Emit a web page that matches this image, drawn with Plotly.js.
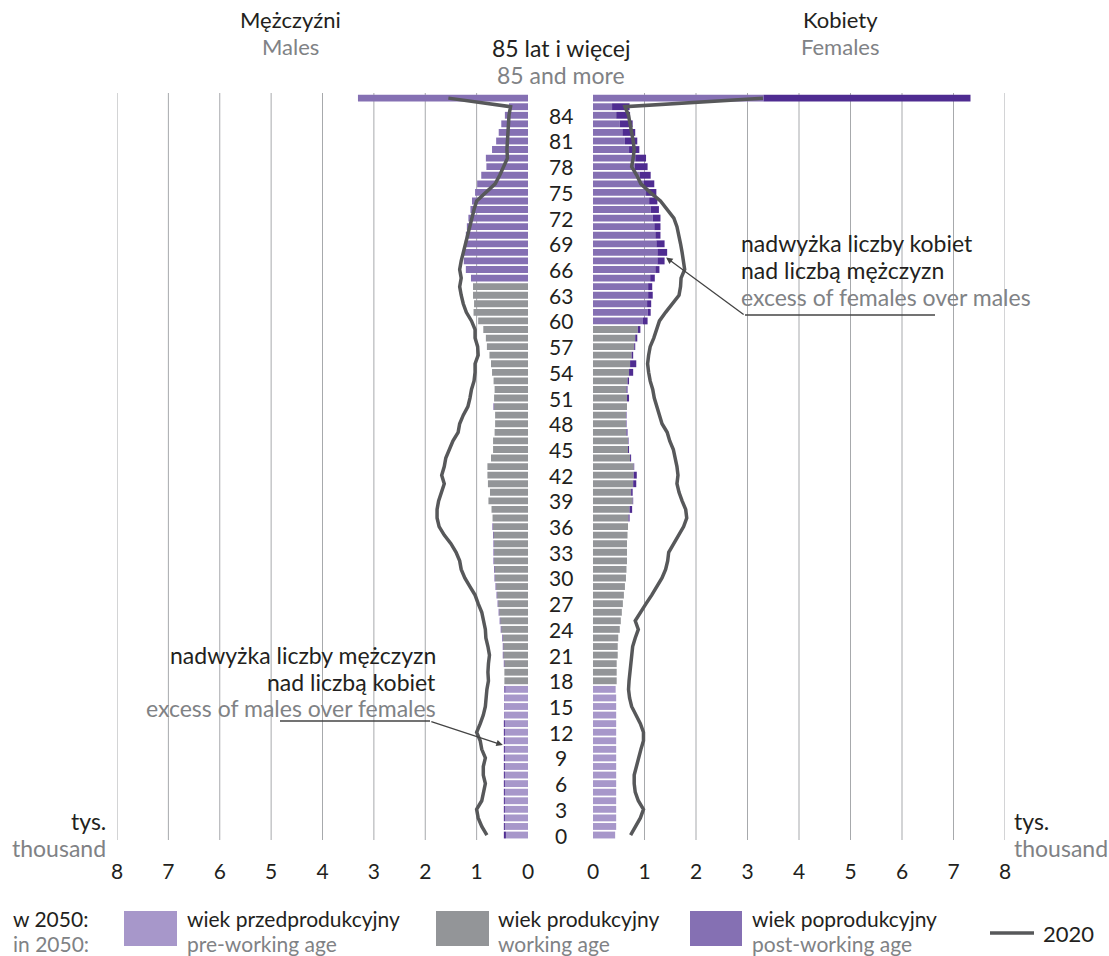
<!DOCTYPE html>
<html><head><meta charset="utf-8">
<script src="https://cdn.plot.ly/plotly-3.0.1.min.js"></script>
<style>html,body{margin:0;padding:0;background:#fff}</style>
</head><body>
<div id="chart" style="width:1109px;height:956px"></div>
<script>
// Rows: single years of age 0..85, last row = "85 lat i więcej / 85 and more"
const ageLabels = ['0','1','2','3','4','5','6','7','8','9','10','11','12','13','14','15','16','17','18','19',
 '20','21','22','23','24','25','26','27','28','29','30','31','32','33','34','35','36','37','38','39',
 '40','41','42','43','44','45','46','47','48','49','50','51','52','53','54','55','56','57','58','59',
 '60','61','62','63','64','65','66','67','68','69','70','71','72','73','74','75','76','77','78','79',
 '80','81','82','83','84','85','85+'];
const ageTicks = [0,3,6,9,12,15,18,21,24,27,30,33,36,39,42,45,48,51,54,57,60,63,66,69,72,75,78,81,84];

// thousands, 2050 projection
const males2050 = [0.47,0.47,0.47,0.47,0.47,0.47,0.47,0.47,0.47,0.47,
 0.47,0.47,0.47,0.47,0.46,0.46,0.46,0.46,0.46,0.46,
 0.47,0.49,0.49,0.50,0.53,0.55,0.57,0.59,0.61,0.63,
 0.65,0.66,0.67,0.67,0.67,0.68,0.69,0.69,0.71,0.77,
 0.74,0.78,0.79,0.79,0.72,0.68,0.68,0.65,0.64,0.64,
 0.67,0.66,0.65,0.67,0.70,0.72,0.75,0.80,0.82,0.87,
 0.97,1.06,1.05,1.07,1.07,1.11,1.21,1.25,1.25,1.23,
 1.21,1.19,1.16,1.12,1.09,1.03,0.99,0.91,0.81,0.82,
 0.70,0.62,0.57,0.52,0.45,0.37,3.31];
const females2050 = [0.43,0.45,0.45,0.45,0.45,0.45,0.45,0.45,0.45,0.45,
 0.45,0.45,0.45,0.45,0.45,0.45,0.45,0.44,0.46,0.46,
 0.46,0.48,0.48,0.49,0.52,0.54,0.56,0.58,0.60,0.62,
 0.64,0.65,0.66,0.66,0.66,0.67,0.68,0.71,0.76,0.78,
 0.77,0.84,0.85,0.80,0.74,0.70,0.69,0.67,0.65,0.65,
 0.66,0.70,0.67,0.70,0.78,0.84,0.78,0.82,0.86,0.92,
 1.06,1.12,1.13,1.16,1.15,1.20,1.29,1.39,1.44,1.39,
 1.31,1.31,1.31,1.28,1.25,1.23,1.19,1.12,1.06,1.03,
 0.90,0.86,0.82,0.77,0.72,0.71,7.33];
// thousands, 2020
const males2020 = [0.80,0.90,0.97,1.00,0.90,0.87,0.83,0.87,0.87,0.83,
 0.90,0.93,1.00,0.93,0.87,0.83,0.82,0.80,0.77,0.78,
 0.77,0.75,0.78,0.82,0.83,0.87,0.90,0.97,1.03,1.13,
 1.23,1.30,1.33,1.40,1.50,1.63,1.73,1.77,1.77,1.74,
 1.68,1.63,1.68,1.63,1.60,1.53,1.46,1.36,1.33,1.26,
 1.17,1.13,1.10,1.05,1.03,1.03,0.97,0.98,1.03,1.03,
 1.10,1.20,1.26,1.30,1.33,1.30,1.33,1.30,1.26,1.22,
 1.18,1.14,1.10,1.05,1.00,0.83,0.64,0.55,0.47,0.40,
 0.41,0.40,0.38,0.38,0.37,0.34,1.55];
const females2020 = [0.73,0.82,0.92,0.98,0.88,0.82,0.80,0.80,0.84,0.88,
 0.93,0.98,0.98,0.92,0.84,0.75,0.71,0.69,0.70,0.72,
 0.73,0.75,0.77,0.82,0.88,0.82,0.92,1.03,1.14,1.24,
 1.34,1.41,1.45,1.47,1.57,1.67,1.76,1.82,1.80,1.73,
 1.67,1.63,1.65,1.63,1.60,1.56,1.49,1.44,1.34,1.29,
 1.24,1.19,1.16,1.11,1.08,1.06,1.08,1.11,1.18,1.24,
 1.29,1.41,1.54,1.67,1.70,1.71,1.78,1.76,1.73,1.70,
 1.67,1.63,1.57,1.44,1.31,1.11,0.93,0.85,0.75,0.78,
 0.80,0.78,0.75,0.72,0.69,0.62,3.30];

// age-group limits (2050): working age starts at 18, post-working 65 (men) / 60 (women)
const workStart = 18, postStartM = 65, postStartF = 60;
const xTicks = [0,1,2,3,4,5,6,7,8];

const C = {pre:'#a797ca', work:'#939598', post:'#8570b3', excess:'#4f2c91',
           line:'#57585a', text:'#231f20', grey:'#808285', grid:'#a7a9ac'};
const FONT = 'Lato, "Open Sans", sans-serif';
const TS = 23;
const W = 1109, H = 956;
const px = v => v / W, py = v => 1 - v / H;

const rows = ageLabels.map((_, i) => i);
const grp = (i, postStart) => i < workStart ? C.pre : (i < postStart ? C.work : C.post);
const shared = males2050.map((m, i) => Math.min(m, females2050[i]));
const exM = males2050.map((m, i) => Math.max(0, m - females2050[i]));
const exF = females2050.map((f, i) => Math.max(0, f - males2050[i]));

const barW = 0.8;
const traces = [
  {type:'bar', orientation:'h', y:rows, x:shared, xaxis:'x', yaxis:'y', width:barW,
   marker:{color: rows.map(i => grp(i, postStartM)), line:{width:0}}},
  {type:'bar', orientation:'h', y:rows, x:exM, base:shared, xaxis:'x', yaxis:'y', width:barW,
   marker:{color:C.excess, line:{width:0}}},
  {type:'bar', orientation:'h', y:rows, x:shared, xaxis:'x2', yaxis:'y', width:barW,
   marker:{color: rows.map(i => grp(i, postStartF)), line:{width:0}}},
  {type:'bar', orientation:'h', y:rows, x:exF, base:shared, xaxis:'x2', yaxis:'y', width:barW,
   marker:{color:C.excess, line:{width:0}}},
  {type:'scatter', mode:'lines', y:rows, x:males2020, xaxis:'x', yaxis:'y',
   line:{color:C.line, width:3.5}},
  {type:'scatter', mode:'lines', y:rows, x:females2020, xaxis:'x2', yaxis:'y',
   line:{color:C.line, width:3.5}}
];

const yTop = 93, yBot = 840;
const shapes = [];
xTicks.filter(v => v > 0).forEach(v => {
  ['x','x2'].forEach(ax => shapes.push({type:'line', xref:ax, yref:'paper', x0:v, x1:v,
    y0:py(yBot), y1:py(yTop), line:{color:C.grid, width:1}, layer:'below'}));
});
// annotation leader lines
shapes.push({type:'line', xref:'paper', yref:'paper', x0:px(745), x1:px(935), y0:py(315), y1:py(315), line:{color:'#444', width:1.3}});
shapes.push({type:'line', xref:'paper', yref:'paper', x0:px(280), x1:px(430), y0:py(721), y1:py(721), line:{color:'#444', width:1.3}});
// legend swatches
[[124,177,C.pre],[436,489,C.work],[690,742,C.post]].forEach(s => shapes.push({type:'rect', xref:'paper', yref:'paper',
  x0:px(s[0]), x1:px(s[1]), y0:py(946), y1:py(911), fillcolor:s[2], line:{width:0}}));
shapes.push({type:'line', xref:'paper', yref:'paper', x0:px(990), x1:px(1034), y0:py(933), y1:py(933), line:{color:C.line, width:3.5}});

const ann = [];
const T = (text, x, y, color, align, size) => ann.push({text, x:px(x), y:py(y), xref:'paper', yref:'paper',
  showarrow:false, xanchor:align||'center', yanchor:'middle', font:{family:FONT, size:size||TS, color:color||C.text}});
T('Mężczyźni', 290, 19, C.text, 'center', 22); T('Males', 290, 46, C.grey, 'center', 22);
T('Kobiety', 840, 19, C.text, 'center', 22); T('Females', 840, 46, C.grey, 'center', 22);
T('85 lat i więcej', 561, 48); T('85 and more', 561, 75, C.grey);
T('tys.', 108, 821, C.text, 'right'); T('thousand', 108, 848, C.grey, 'right');
T('tys.', 1012, 821, C.text, 'left'); T('thousand', 1012, 848, C.grey, 'left');
T('nadwyżka liczby kobiet', 739, 243, C.text, 'left');
T('nad liczbą mężczyzn', 739, 270, C.text, 'left');
T('excess of females over males', 739, 297, C.grey, 'left');
T('nadwyżka liczby mężczyzn', 438, 655, C.text, 'right');
T('nad liczbą kobiet', 438, 682, C.text, 'right');
T('excess of males over females', 438, 708, C.grey, 'right');
const LS = 21, L1 = 918, L2 = 943;
T('w 2050:', 11, L1, C.text, 'left', LS); T('in 2050:', 11, L2, C.grey, 'left', LS);
T('wiek przedprodukcyjny', 185, L1, C.text, 'left', LS); T('pre-working age', 185, L2, C.grey, 'left', LS);
T('wiek produkcyjny', 496, L1, C.text, 'left', LS); T('working age', 496, L2, C.grey, 'left', LS);
T('wiek poprodukcyjny', 750, L1, C.text, 'left', LS); T('post-working age', 750, L2, C.grey, 'left', LS);
T('2020', 1041, 933, C.text, 'left', 22);
// age labels in the middle column
ageTicks.forEach(a => ann.push({text:ageLabels[a], x:px(561), xref:'paper', y:a, yref:'y', showarrow:false,
  xanchor:'center', yanchor:'middle', font:{family:FONT, size:21, color:C.text}}));
// arrows
ann.push({text:'', xref:'x2', yref:'y', x:1.42, y:67.4, showarrow:true, ax:79, ay:58,
  arrowhead:2, arrowsize:1, arrowwidth:1.3, arrowcolor:'#444'});
ann.push({text:'', xref:'x', yref:'y', x:0.49, y:10.5, showarrow:true, ax:-73, ay:-24,
  arrowhead:2, arrowsize:1, arrowwidth:1.3, arrowcolor:'#444'});

const xa = {tickvals:xTicks, ticktext:xTicks.map(String), showgrid:false, zeroline:false, showline:false,
  ticks:'', anchor:'free', position:py(857), tickfont:{family:FONT, size:21, color:C.text}, fixedrange:true};
const layout = {
  width:W, height:H, margin:{l:0, r:0, t:0, b:0}, paper_bgcolor:'#fff', plot_bgcolor:'rgba(0,0,0,0)',
  showlegend:false, barmode:'overlay', hovermode:false,
  xaxis: Object.assign({}, xa, {domain:[px(117), px(528)], range:[8, 0]}),
  xaxis2: Object.assign({}, xa, {domain:[px(593), px(1005)], range:[0, 8]}),
  yaxis: {domain:[py(yBot), py(yTop)], range:[-0.58, 86.6], visible:false, fixedrange:true},
  shapes, annotations: ann
};
Plotly.newPlot('chart', traces, layout, {displayModeBar:false, staticPlot:true});
</script>
</body></html>
